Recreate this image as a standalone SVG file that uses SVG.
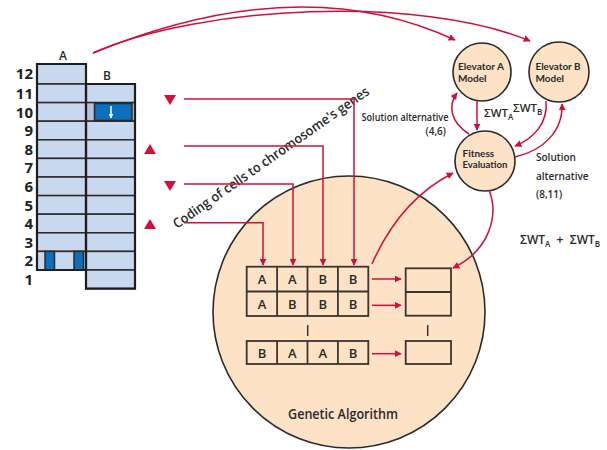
<svg xmlns="http://www.w3.org/2000/svg" width="607" height="450" viewBox="0 0 607 450">
<style>
.cell{fill:#c8d8ef;stroke:#2a2a2a;stroke-width:1.5}
.blue{fill:#0a6fbd;stroke:#2a2a2a;stroke-width:1.5}
.out{fill:none;stroke:#1e1e1e;stroke-width:2.2}
.num{font-family:"Open Sans","Noto Sans",sans-serif;font-size:15px;font-weight:700;fill:#222;text-anchor:end}
.lbl{font-family:"Open Sans","Noto Sans",sans-serif;font-weight:600;fill:#2a2a2a}
.clbl{font-family:Lato,"Open Sans",sans-serif;font-weight:700;font-size:10px;fill:#2a2a2a}
.peach{fill:#fde2c6;stroke:#2a2a2a;stroke-width:1.6}
.box{fill:none;stroke:#3a3530;stroke-width:1.8}
.con{fill:none;stroke:#d0103a;stroke-width:1.5}
.tri{fill:#d0103a}
</style>
<defs>
<marker id="ah" viewBox="0 0 10 10" refX="9" refY="5" markerWidth="7" markerHeight="7" markerUnits="userSpaceOnUse" orient="auto">
<path d="M0,0 L10,5 L0,10 z" fill="#d0103a"/>
</marker>
<marker id="wah" viewBox="0 0 10 10" refX="9" refY="5" markerWidth="5" markerHeight="5" markerUnits="userSpaceOnUse" orient="auto">
<path d="M0,0 L10,5 L0,10 z" fill="#ffffff"/>
</marker>
</defs>

<g id="building">
<text class="lbl" x="63" y="60" font-size="12" text-anchor="middle">A</text>
<text class="lbl" x="107" y="80" font-size="12" text-anchor="middle">B</text>
<rect class="cell" x="37" y="64" width="49" height="20"/>
<rect class="cell" x="37" y="84" width="49" height="18.6"/>
<rect class="cell" x="37" y="102.6" width="49" height="18.6"/>
<rect class="cell" x="37" y="121.2" width="49" height="18.6"/>
<rect class="cell" x="37" y="139.8" width="49" height="18.6"/>
<rect class="cell" x="37" y="158.4" width="49" height="18.6"/>
<rect class="cell" x="37" y="177" width="49" height="18.6"/>
<rect class="cell" x="37" y="195.6" width="49" height="18.6"/>
<rect class="cell" x="37" y="214.2" width="49" height="18.6"/>
<rect class="cell" x="37" y="232.8" width="49" height="18.6"/>
<rect class="cell" x="37" y="251.4" width="49" height="18.6"/>
<rect class="cell" x="86" y="84" width="49" height="18.6"/>
<rect class="cell" x="86" y="102.6" width="49" height="18.6" style="fill:#b7c3d1"/>
<rect class="cell" x="86" y="121.2" width="49" height="18.6"/>
<rect class="cell" x="86" y="139.8" width="49" height="18.6"/>
<rect class="cell" x="86" y="158.4" width="49" height="18.6"/>
<rect class="cell" x="86" y="177" width="49" height="18.6"/>
<rect class="cell" x="86" y="195.6" width="49" height="18.6"/>
<rect class="cell" x="86" y="214.2" width="49" height="18.6"/>
<rect class="cell" x="86" y="232.8" width="49" height="18.6"/>
<rect class="cell" x="86" y="251.4" width="49" height="18.6"/>
<rect class="cell" x="86" y="270" width="49" height="18.6"/>
<rect class="blue" x="94.5" y="103.5" width="37.5" height="17"/>
<line x1="111" y1="106" x2="111" y2="118" stroke="#fff" stroke-width="1.5" marker-end="url(#wah)"/>
<rect class="blue" x="45" y="251.4" width="9.5" height="18.6"/>
<rect class="blue" x="74" y="251.4" width="9.5" height="18.6"/>
<path class="out" d="M37,64 H86 V270 H37 Z"/>
<path class="out" d="M86,84 H135 V288.6 H86 Z"/>
<text class="num" x="33" y="79">12</text>
<text class="num" x="33" y="98.5">11</text>
<text class="num" x="33" y="117.5">10</text>
<text class="num" x="33" y="136">9</text>
<text class="num" x="33" y="154.5">8</text>
<text class="num" x="33" y="173">7</text>
<text class="num" x="33" y="191.5">6</text>
<text class="num" x="33" y="210.5">5</text>
<text class="num" x="33" y="229">4</text>
<text class="num" x="33" y="247.5">3</text>
<text class="num" x="33" y="266">2</text>
<text class="num" x="33" y="285">1</text>
</g>

<g id="triangles">
<polygon class="tri" points="164,95 176,95 170,105"/>
<polygon class="tri" points="144,154 156,154 150,144"/>
<polygon class="tri" points="164,181 176,181 170,191"/>
<polygon class="tri" points="144,229 156,229 150,219"/>
</g>

<g id="ga">
<circle class="peach" cx="349" cy="312" r="136"/>
<text class="lbl" x="343" y="419" font-size="13.5" text-anchor="middle" textLength="110" lengthAdjust="spacingAndGlyphs">Genetic Algorithm</text>
<g class="box">
<rect x="246.7" y="266.7" width="121.6" height="49.3"/>
<line x1="246.7" y1="291.5" x2="368.3" y2="291.5"/>
<line x1="277.1" y1="266.7" x2="277.1" y2="316"/>
<line x1="307.5" y1="266.7" x2="307.5" y2="316"/>
<line x1="337.9" y1="266.7" x2="337.9" y2="316"/>
<rect x="246.7" y="341" width="121.6" height="23"/>
<line x1="277.1" y1="341" x2="277.1" y2="364"/>
<line x1="307.5" y1="341" x2="307.5" y2="364"/>
<line x1="337.9" y1="341" x2="337.9" y2="364"/>
<rect x="405.7" y="268.3" width="45.3" height="47.4"/>
<line x1="405.7" y1="292" x2="451" y2="292"/>
<rect x="405.7" y="341" width="45.3" height="23"/>
<line x1="307.7" y1="325" x2="307.7" y2="336" stroke-width="1.5"/>
<line x1="427.7" y1="325" x2="427.7" y2="336" stroke-width="1.5"/>
</g>
<g class="lbl" font-size="13" text-anchor="middle">
<text x="262" y="284">A</text><text x="292.3" y="284">A</text><text x="322.7" y="284">B</text><text x="353.1" y="284">B</text>
<text x="262" y="308.5">A</text><text x="292.3" y="308.5">B</text><text x="322.7" y="308.5">B</text><text x="353.1" y="308.5">B</text>
<text x="262" y="357.5">B</text><text x="292.3" y="357.5">A</text><text x="322.7" y="357.5">A</text><text x="353.1" y="357.5">B</text>
</g>
</g>

<g id="elevatorA">
<circle class="peach" cx="482" cy="72" r="29"/>
<text class="clbl" x="458" y="70" textLength="46" lengthAdjust="spacingAndGlyphs">Elevator A</text>
<text class="clbl" x="458" y="81.5">Model</text>
</g>
<g id="elevatorB">
<circle class="peach" cx="559" cy="72" r="30"/>
<text class="clbl" x="535.5" y="70" textLength="45" lengthAdjust="spacingAndGlyphs">Elevator B</text>
<text class="clbl" x="535.5" y="81.5">Model</text>
</g>
<g id="fitness">
<circle class="peach" cx="485" cy="161" r="30"/>
<text class="clbl" x="462.5" y="156.5">Fitness</text>
<text class="clbl" x="462.5" y="167.5" textLength="45" lengthAdjust="spacingAndGlyphs">Evaluation</text>
</g>

<g id="labels" class="lbl">
<text x="177" y="229" font-size="13.5" transform="rotate(-35 177 229)" textLength="236" lengthAdjust="spacingAndGlyphs">Coding of cells to chromosome's genes</text>
<text x="361.5" y="121" font-size="10" textLength="87" lengthAdjust="spacingAndGlyphs">Solution alternative</text>
<text x="446" y="135" font-size="10" text-anchor="end">(4,6)</text>
<text x="536" y="161" font-size="10">Solution</text>
<text x="536" y="179.5" font-size="10">alternative</text>
<text x="536" y="198" font-size="10">(8,11)</text>
<text x="484" y="117" font-size="11.5">ΣWT<tspan font-size="8" dy="3">A</tspan></text>
<text x="513" y="111.5" font-size="11.5">ΣWT<tspan font-size="8" dy="3">B</tspan></text>
<text x="520" y="244" font-size="12">ΣWT<tspan font-size="8" dy="3">A</tspan><tspan dy="-3" xml:space="preserve">  +  ΣWT</tspan><tspan font-size="8" dy="3">B</tspan></text>
</g>

<g id="connectors">
<path class="con" d="M93,53 Q300,-32 455,40" marker-end="url(#ah)"/>
<path class="con" d="M93,53 C200,5 420,-5 530,41" marker-end="url(#ah)"/>
<path class="con" d="M184,99 H354 V265" marker-end="url(#ah)"/>
<path class="con" d="M184,146 H323 V265" marker-end="url(#ah)"/>
<path class="con" d="M184,184 H293 V265" marker-end="url(#ah)"/>
<path class="con" d="M184,222.7 H263 V265" marker-end="url(#ah)"/>
<path class="con" d="M372,279 H401" marker-end="url(#ah)"/>
<path class="con" d="M372,305.3 H401" marker-end="url(#ah)"/>
<path class="con" d="M372,353.7 H401" marker-end="url(#ah)"/>
<path class="con" d="M372,264 Q400,200 453,173" marker-end="url(#ah)"/>
<path class="con" d="M489,190 C499,215 490,250 453,268" marker-end="url(#ah)"/>
<path class="con" d="M477,101 V130" marker-end="url(#ah)"/>
<path class="con" d="M469,134 C450,122 448,105 457,93" marker-end="url(#ah)"/>
<path class="con" d="M546,101 C548,122 535,138 515,146" marker-end="url(#ah)"/>
<path class="con" d="M515,157 C545,150 563,130 562,104" marker-end="url(#ah)"/>
</g>
</svg>
